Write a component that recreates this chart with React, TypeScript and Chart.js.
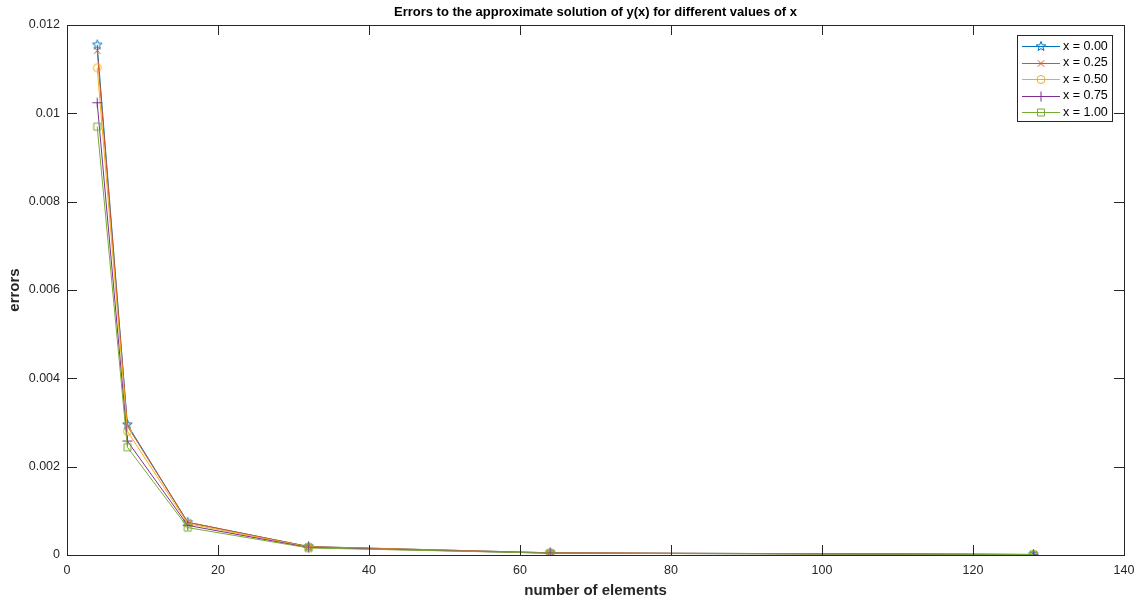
import React, { useEffect, useRef } from "react";
import { Chart, registerables } from "chart.js";

Chart.register(...registerables);

const elements = [4, 8, 16, 32, 64, 128];
const seriesLabels = ["x = 0.00", "x = 0.25", "x = 0.50", "x = 0.75", "x = 1.00"];
const err000 = [0.01155, 0.00295, 0.00074, 0.00019, 0.00005, 0.000012];
const err025 = [0.01142, 0.00292, 0.00074, 0.00019, 0.00005, 0.000012];
const err050 = [0.01103, 0.0028, 0.00071, 0.00018, 0.000045, 0.000011];
const err075 = [0.01024, 0.00258, 0.00067, 0.00017, 0.000042, 0.000011];
const err100 = [0.0097, 0.00244, 0.00062, 0.00016, 0.00004, 0.00001];
const xTicks = [0, 20, 40, 60, 80, 100, 120, 140];
const yTicks = [0, 0.002, 0.004, 0.006, 0.008, 0.01, 0.012];

const COLORS = ["#0072BD", "#D95319", "#EDB120", "#7E2F8E", "#77AC30"];
const MARKERS = ["pentagram", "x", "circle", "plus", "square"];
const FONT = "Arial, 'Liberation Sans', sans-serif";
const AXIS = "#262626";

function drawMarker(ctx: CanvasRenderingContext2D, type: string, cx: number, cy: number, color: string) {
  ctx.save();
  ctx.strokeStyle = color;
  ctx.lineWidth = 1;
  ctx.beginPath();
  const r = 4;
  if (type === "pentagram") {
    const ro = 5, ri = 2.1;
    for (let i = 0; i < 10; i++) {
      const ang = -Math.PI / 2 + (i * Math.PI) / 5;
      const rr = i % 2 === 0 ? ro : ri;
      const px = cx + rr * Math.cos(ang);
      const py = cy + rr * Math.sin(ang);
      if (i === 0) ctx.moveTo(px, py);
      else ctx.lineTo(px, py);
    }
    ctx.closePath();
  } else if (type === "x") {
    ctx.moveTo(cx - 3.2, cy - 3.2);
    ctx.lineTo(cx + 3.2, cy + 3.2);
    ctx.moveTo(cx - 3.2, cy + 3.2);
    ctx.lineTo(cx + 3.2, cy - 3.2);
  } else if (type === "circle") {
    ctx.arc(cx, cy, r, 0, Math.PI * 2);
  } else if (type === "plus") {
    ctx.moveTo(cx - 5, cy);
    ctx.lineTo(cx + 5, cy);
    ctx.moveTo(cx, cy - 5);
    ctx.lineTo(cx, cy + 5);
  } else if (type === "square") {
    ctx.rect(cx - 3.5, cy - 3.5, 7, 7);
  }
  ctx.stroke();
  ctx.restore();
}

function markerCanvas(type: string, color: string): HTMLCanvasElement {
  const c = document.createElement("canvas");
  c.width = 13;
  c.height = 13;
  const ctx = c.getContext("2d")!;
  drawMarker(ctx, type, 6.5, 6.5, color);
  return c;
}

const decorPlugin = {
  id: "matlabDecor",
  afterDraw(chart: any) {
    const { ctx, chartArea } = chart;
    const { left, right, top, bottom } = chartArea;
    const xs = chart.scales.x;
    const ys = chart.scales.y;
    ctx.save();
    // box
    ctx.strokeStyle = AXIS;
    ctx.lineWidth = 1;
    ctx.strokeRect(Math.round(left) + 0.5, Math.round(top) + 0.5, Math.round(right - left), Math.round(bottom - top));
    // ticks
    ctx.beginPath();
    const tl = 10;
    xTicks.forEach((v) => {
      const px = Math.round(xs.getPixelForValue(v)) + 0.5;
      ctx.moveTo(px, bottom);
      ctx.lineTo(px, bottom - tl);
      ctx.moveTo(px, top);
      ctx.lineTo(px, top + tl);
    });
    yTicks.forEach((v) => {
      const py = Math.round(ys.getPixelForValue(v)) + 0.5;
      ctx.moveTo(left, py);
      ctx.lineTo(left + tl, py);
      ctx.moveTo(right, py);
      ctx.lineTo(right - tl, py);
    });
    ctx.stroke();

    // title
    ctx.fillStyle = "#000";
    ctx.textAlign = "center";
    ctx.textBaseline = "middle";
    ctx.font = `bold 13px ${FONT}`;
    ctx.fillText("Errors to the approximate solution of y(x) for different values of x", (left + right) / 2, 12);

    // axis labels
    ctx.fillStyle = AXIS;
    ctx.font = `bold 15px ${FONT}`;
    ctx.fillText("number of elements", (left + right) / 2, 591);
    ctx.save();
    ctx.translate(15, (top + bottom) / 2);
    ctx.rotate(-Math.PI / 2);
    ctx.fillText("errors", 0, 0);
    ctx.restore();

    // legend
    const lx = 1017.5, ly = 35.5, lw = 95, lh = 86;
    ctx.fillStyle = "#fff";
    ctx.fillRect(lx, ly, lw, lh);
    ctx.strokeStyle = AXIS;
    ctx.strokeRect(lx, ly, lw, lh);
    ctx.font = `12.5px ${FONT}`;
    ctx.textAlign = "left";
    ctx.textBaseline = "middle";
    seriesLabels.forEach((lab, i) => {
      const yy = 46 + i * 16.5;
      ctx.strokeStyle = COLORS[i];
      ctx.lineWidth = 1;
      ctx.beginPath();
      ctx.moveTo(1022, Math.round(yy) + 0.5);
      ctx.lineTo(1060, Math.round(yy) + 0.5);
      ctx.stroke();
      drawMarker(ctx, MARKERS[i], 1041, Math.round(yy) + 0.5, COLORS[i]);
      ctx.fillStyle = "#000";
      ctx.fillText(lab, 1063, yy + 0.5);
    });
    ctx.restore();
  },
};

export default function App() {
  const ref = useRef<HTMLCanvasElement>(null);
  useEffect(() => {
    if (!ref.current) return;
    const seriesData = [err000, err025, err050, err075, err100];
    const chart = new Chart(ref.current, {
      type: "line",
      data: {
        datasets: seriesData.map((vals, i) => ({
          label: seriesLabels[i],
          data: elements.map((x, j) => ({ x, y: vals[j] })),
          borderColor: COLORS[i],
          borderWidth: 1,
          pointStyle: markerCanvas(MARKERS[i], COLORS[i]) as any,
          pointRadius: 5,
          pointBackgroundColor: "rgba(0,0,0,0)",
          pointBorderColor: COLORS[i],
          tension: 0,
          order: 4 - i,
        })),
      },
      options: {
        animation: false,
        responsive: false,
        events: [],
        layout: { padding: { top: 25, right: 23, left: 0, bottom: 0 } },
        plugins: {
          legend: { display: false },
          title: { display: false },
          tooltip: { enabled: false },
        },
        scales: {
          x: {
            type: "linear",
            min: 0,
            max: 140,
            grid: { display: false, drawTicks: false },
            border: { display: false },
            afterFit: (s: any) => {
              s.height = 50;
            },
            afterBuildTicks: (s: any) => {
              s.ticks = xTicks.map((v) => ({ value: v }));
            },
            ticks: {
              padding: 8,
              color: AXIS,
              font: { family: FONT, size: 12.5 },
              maxRotation: 0,
              callback: (v: any) => String(v),
            },
          },
          y: {
            type: "linear",
            min: 0,
            max: 0.012,
            grid: { display: false, drawTicks: false },
            border: { display: false },
            afterFit: (s: any) => {
              s.width = 67;
            },
            afterBuildTicks: (s: any) => {
              s.ticks = yTicks.map((v) => ({ value: v }));
            },
            ticks: {
              padding: 7,
              color: AXIS,
              font: { family: FONT, size: 12.5 },
              callback: (v: any) => (v === 0 ? "0" : Number(v).toFixed(3).replace(/0+$/, (m) => (m.length === 3 ? "" : "")) ),
            },
          },
        },
      },
      plugins: [decorPlugin],
    });
    return () => chart.destroy();
  }, []);
  return (
    <div style={{ position: "fixed", left: 0, top: 0, width: 1147, height: 605, background: "#fff" }}>
      <canvas ref={ref} width={1147} height={605} style={{ display: "block" }} />
    </div>
  );
}
